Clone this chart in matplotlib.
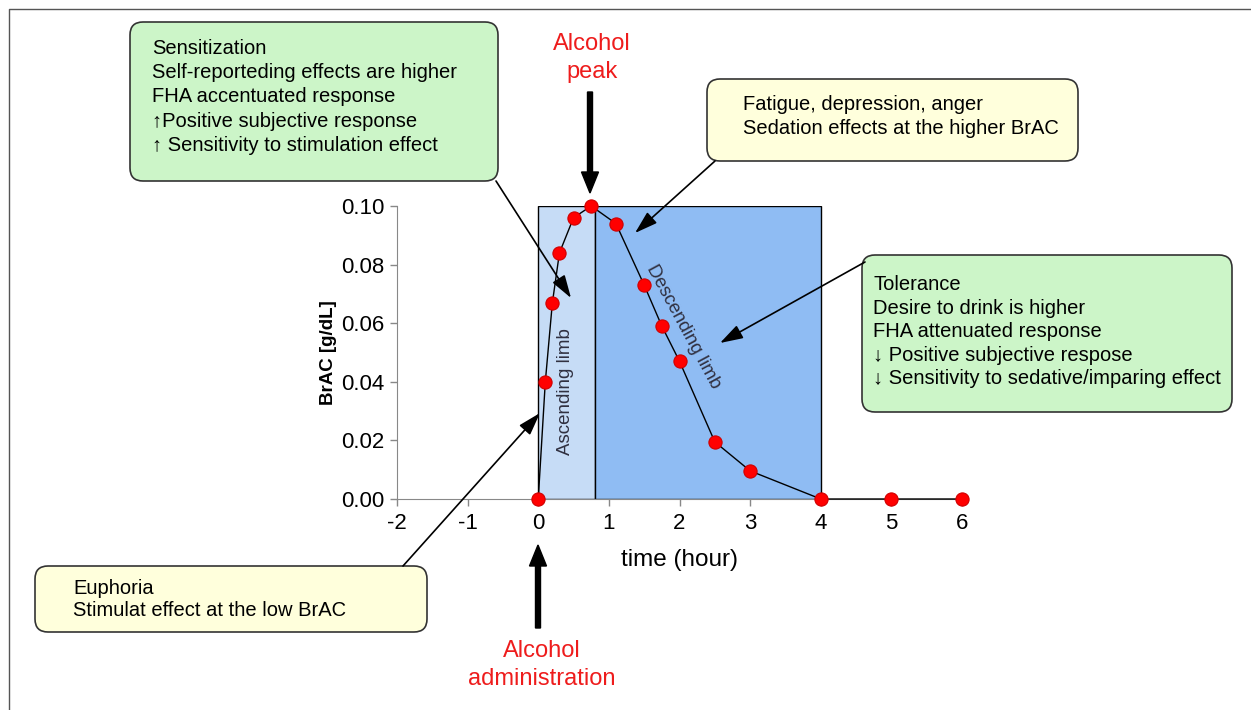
import matplotlib.pyplot as plt
from matplotlib.patches import FancyBboxPatch, Rectangle

plt.rcParams['font.family'] = ['Liberation Sans', 'DejaVu Sans']

# BrAC curve
time_h = [0, 0.1, 0.2, 0.3, 0.5, 0.75, 1.1, 1.5, 1.75, 2.0, 2.5, 3.0, 4.0, 5.0, 6.0]
brac = [0, 0.040, 0.067, 0.084, 0.096, 0.100, 0.094, 0.073, 0.059, 0.047, 0.0195, 0.0096, 0, 0, 0]

# limb regions (hours)
asc_limb = [0, 0.8]
desc_limb = [0.8, 4.0]
limb_top = 0.10

xticks = [-2, -1, 0, 1, 2, 3, 4, 5, 6]
yticks = [0.00, 0.02, 0.04, 0.06, 0.08, 0.10]

sens_lines = ['Sensitization', 'Self-reporteding effects are higher', 'FHA accentuated response',
              '\u2191Positive subjective response', '\u2191 Sensitivity to stimulation effect']
fatigue_lines = ['Fatigue, depression, anger', 'Sedation effects at the higher BrAC']
toler_lines = ['Tolerance', 'Desire to drink is higher', 'FHA attenuated response',
               '\u2193 Positive subjective respose', '\u2193 Sensitivity to sedative/imparing effect']
euph_lines = ['Euphoria', 'Stimulat effect at the low BrAC']

W, H = 1251, 710
fig = plt.figure(figsize=(W / 100, H / 100), dpi=100)
ax = fig.add_axes([397 / W, 1 - 499 / H, (962 - 397) / W, (499 - 206) / H])

ax.add_patch(Rectangle((asc_limb[0], 0), asc_limb[1] - asc_limb[0], limb_top,
                       fc='#c6dcf6', ec='black', lw=1, zorder=1))
ax.add_patch(Rectangle((desc_limb[0], 0), desc_limb[1] - desc_limb[0], limb_top,
                       fc='#8fbcf3', ec='black', lw=1, zorder=1))
ax.plot(time_h, brac, color='black', lw=1, marker='o', ms=9.5, mfc='#ff0000',
        mec='#d00000', mew=0.8, clip_on=False, zorder=5)

ax.text(0.39, 0.0365, 'Ascending limb', rotation=90, ha='center', va='center',
        fontsize=13.5, color='#303040', zorder=4)
ax.text(2.05, 0.0587, 'Descending limb', rotation=-61.6, rotation_mode='anchor',
        ha='center', va='center', fontsize=13.5, color='#303040', zorder=4)

ax.set_xlim(-2, 6)
ax.set_ylim(0, 0.1)
ax.set_xticks(xticks)
ax.set_xticklabels([str(t) for t in xticks])
ax.set_yticks(yticks)
ax.set_yticklabels(['%.2f' % v for v in yticks])
for s in ['top', 'right']:
    ax.spines[s].set_visible(False)
for s in ['left', 'bottom']:
    ax.spines[s].set_color('#888888')
ax.tick_params(colors='#888888', labelcolor='black', labelsize=16, length=5, width=1)
ax.tick_params(axis='x', pad=5)
ax.tick_params(axis='y', pad=4)
ax.set_xlabel('time (hour)', fontsize=17.5, labelpad=11)
ax.set_ylabel('BrAC [g/dL]', fontsize=13.5, fontweight='bold', labelpad=3)
ax.patch.set_alpha(0)

# overlay in pixel coordinates for boxes and arrows
ov = fig.add_axes([0, 0, 1, 1])
ov.set_xlim(0, W)
ov.set_ylim(H, 0)
ov.axis('off')
ov.set_zorder(3)

# outer frame
ov.plot([9, 9, W + 5], [H + 5, 9, 9], color='#555555', lw=1)

green = '#ccf5c8'
cream = '#ffffdc'

def box(x0, y0, x1, y1, fc, tx, ty, dy, lines):
    ov.add_patch(FancyBboxPatch((x0, y0), x1 - x0, y1 - y0,
                                boxstyle='round,pad=0,rounding_size=13',
                                fc=fc, ec='#333333', lw=1.2))
    for i, line in enumerate(lines):
        ov.text(tx, ty + i * dy, line, ha='left', va='center', fontsize=14.5)

box(130, 22, 498, 181, green, 152, 48, 24.4, sens_lines)
box(707, 79, 1078, 161, cream, 743, 105, 24, fatigue_lines)
box(862, 255, 1232, 412, green, 873, 285, 23.4, toler_lines)
box(35, 566, 427, 632, cream, 73, 588, 23, euph_lines)

# thin pointer arrows
pointers = [((496, 181), (571, 298)),
            ((715, 161), (635, 233)),
            ((865, 262), (720, 343)),
            ((403, 566), (540, 413))]
for start, tip in pointers:
    ov.annotate('', xy=tip, xytext=start,
                arrowprops=dict(arrowstyle='-|>,head_length=0.7,head_width=0.22',
                                color='black', lw=1.2, shrinkA=0, shrinkB=0,
                                mutation_scale=20))

# big event arrows
ov.arrow(590, 92, 0, 101, width=5, head_width=17, head_length=21,
         length_includes_head=True, fc='black', ec='black')
ov.arrow(538, 628, 0, -83, width=5, head_width=17, head_length=21,
         length_includes_head=True, fc='black', ec='black')

red = '#ee1c1c'
ov.text(592, 44, 'Alcohol', ha='center', va='center', fontsize=17, color=red)
ov.text(592, 72, 'peak', ha='center', va='center', fontsize=17, color=red)
ov.text(542, 651, 'Alcohol', ha='center', va='center', fontsize=17, color=red)
ov.text(542, 679, 'administration', ha='center', va='center', fontsize=17, color=red)

fig.savefig('out.png', dpi=100)
